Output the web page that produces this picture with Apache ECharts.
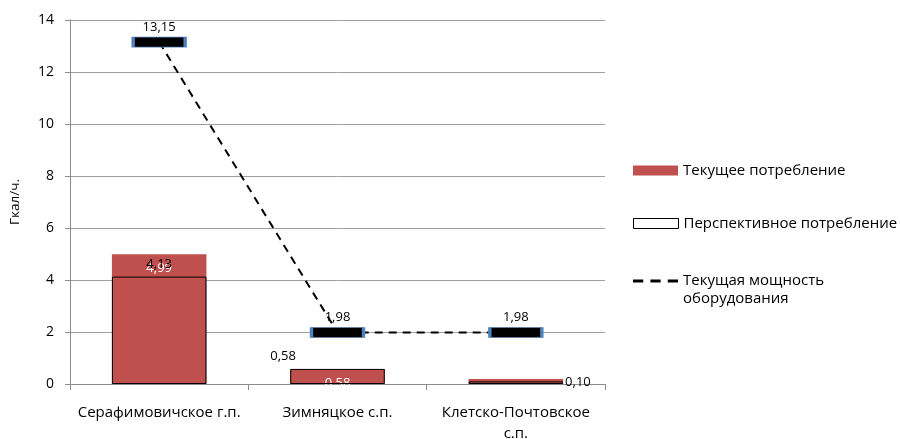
<!DOCTYPE html>
<html>
<head>
<meta charset="utf-8">
<script src="https://cdn.jsdelivr.net/npm/echarts@6/dist/echarts.min.js"></script>
<style>html,body{margin:0;padding:0;background:#fff;}#c{width:900px;height:439px;}</style>
</head>
<body>
<div id="c"></div>
<script>
var categories = ['Серафимовичское г.п.', 'Зимняцкое с.п.', 'Клетско-Почтовское с.п.'];
var currentConsumption = [4.99, 0.58, 0.19];
var futureConsumption = [4.13, 0.58, 0.10];
var equipmentCapacity = [13.15, 1.98, 1.98];
var yTicks = [0, 2, 4, 6, 8, 10, 12, 14];
var seriesNames = ['Текущее потребление', 'Перспективное потребление', 'Текущая мощность оборудования'];
var yName = 'Гкал/ч.';

var FONT = 'Open Sans';
function fmt(v) { return v.toFixed(2).replace('.', ','); }

var futureLabelPos = [
  { position: 'top', distance: 6 },
  { position: [-20, -19] },
  { position: 'right', distance: 2 }
];

var chart = echarts.init(document.getElementById('c'));
chart.setOption({
  animation: false,
  textStyle: { fontFamily: FONT },
  grid: { left: 70, right: 295, top: 20, bottom: 55, outerBoundsMode: 'none', containLabel: false },
  legend: [
    { data: [{ name: seriesNames[0], icon: 'rect', itemStyle: { color: '#c0504d' } }],
      left: 633, top: 163, padding: 0, itemWidth: 45, itemHeight: 10, selectedMode: false,
      textStyle: { fontFamily: FONT, fontSize: 15, color: '#000' } },
    { data: [{ name: seriesNames[1], icon: 'rect', itemStyle: { color: '#fff', borderColor: '#000', borderWidth: 1 } }],
      left: 633, top: 216, padding: 0, itemWidth: 45, itemHeight: 10, selectedMode: false,
      textStyle: { fontFamily: FONT, fontSize: 15, color: '#000' } },
    { data: [{ name: seriesNames[2], icon: 'path://M0,0h10v3h-10z M17,0h10v3h-10z M34,0h10v3h-10z',
        itemStyle: { color: '#000', borderColor: '#000', borderWidth: 0 } }],
      left: 633, top: 254, padding: 0, itemWidth: 45, itemHeight: 4, selectedMode: false,
      formatter: function (n) { return ' \nТекущая мощность\nоборудования'; },
      textStyle: { fontFamily: FONT, fontSize: 15, color: '#000', lineHeight: 18 } }
  ],
  xAxis: {
    type: 'category',
    data: categories,
    boundaryGap: true,
    axisLine: { lineStyle: { color: '#8c8c8c' } },
    axisTick: { show: true, length: 6, lineStyle: { color: '#8c8c8c' } },
    axisLabel: { color: '#000', fontFamily: FONT, fontSize: 15, margin: 18, interval: 0, lineHeight: 21,
      formatter: function (v) { return v.length > 20 ? v.replace(' с.п.', '\nс.п.') : v; } }
  },
  yAxis: {
    type: 'value',
    min: yTicks[0], max: yTicks[yTicks.length - 1], interval: 2,
    name: yName, nameLocation: 'middle', nameGap: 48, nameRotate: 90,
    nameTextStyle: { color: '#000', fontFamily: FONT, fontSize: 13.5 },
    axisLine: { show: true, lineStyle: { color: '#8c8c8c' } },
    axisTick: { show: true, length: 5, lineStyle: { color: '#8c8c8c' } },
    axisLabel: { color: '#000', fontFamily: FONT, fontSize: 14, margin: 16 },
    splitLine: { lineStyle: { color: '#a0a0a0' } }
  },
  series: [
    {
      name: seriesNames[0], type: 'bar', data: currentConsumption,
      barWidth: '53%', barGap: '-100%',
      itemStyle: { color: '#c0504d' },
      label: { show: true, position: 'insideTop', distance: 8, color: '#fff', fontFamily: FONT, fontSize: 13,
        formatter: function (p) { return fmt(p.value); } },
      z: 2
    },
    {
      name: seriesNames[1], type: 'bar',
      data: futureConsumption.map(function (v, i) { return { value: v, label: futureLabelPos[i] }; }),
      barWidth: '53%', barGap: '-100%',
      itemStyle: { color: 'rgba(0,0,0,0)', borderColor: '#000', borderWidth: 1 },
      label: { show: true, color: '#000', fontFamily: FONT, fontSize: 13,
        formatter: function (p) { return fmt(p.value); } },
      z: 3
    },
    {
      name: seriesNames[2], type: 'line', data: equipmentCapacity,
      symbol: 'rect', symbolSize: [52, 10],
      itemStyle: { color: '#000', borderColor: '#4f81bd', borderWidth: 1.5 },
      lineStyle: { color: '#000', width: 2, type: [8, 6] },
      label: { show: true, position: 'top', distance: 3, color: '#000', fontFamily: FONT, fontSize: 13,
        formatter: function (p) { return fmt(p.value); } },
      z: 5
    }
  ]
});
</script>
</body>
</html>
